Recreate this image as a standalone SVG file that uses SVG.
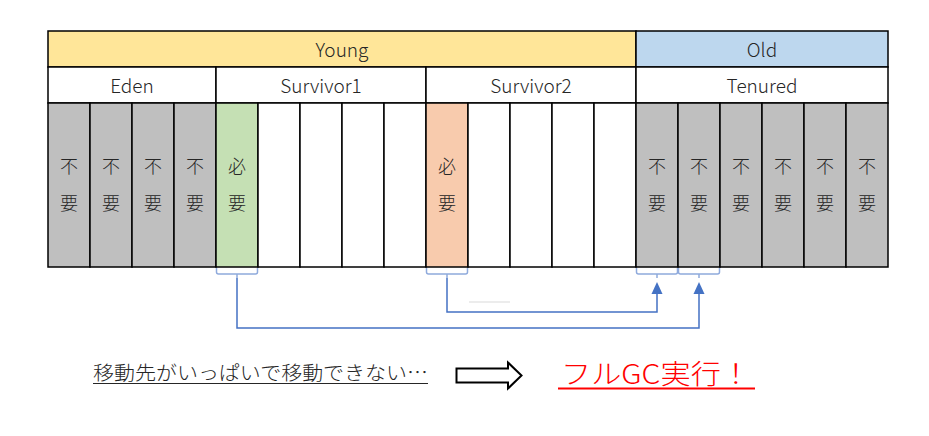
<svg xmlns="http://www.w3.org/2000/svg" width="929" height="436" viewBox="0 0 929 436">
<style>
.t{font-family:"Noto Sans CJK JP","Noto Sans",sans-serif;fill:#262626;text-anchor:middle;dominant-baseline:central}
.h{font-size:19px;font-weight:300}
.c{font-size:18px;font-weight:300}
.b{stroke:#000;stroke-width:1.5}
.br{fill:none;stroke:#8faadc;stroke-width:1.5}
.cn{fill:none;stroke:#4472c4;stroke-width:1.5}
.g{fill:#bfbfbf}.w{fill:#fff}.gr{fill:#c5e0b4}.or{fill:#f8cbad}
</style>
<rect width="929" height="436" fill="#fff"/>
<g id="young"><rect x="48" y="31" width="588" height="36" fill="#ffe699" class="b"/><text class="t h" x="342" y="48">Young</text></g>
<g id="old"><rect x="636" y="31" width="252" height="36" fill="#bdd7ee" class="b"/><text class="t h" x="762" y="48">Old</text></g>
<g id="eden"><rect x="48" y="67" width="168" height="36" fill="#fff" class="b"/><text class="t h" x="132" y="84">Eden</text></g>
<g id="survivor1"><rect x="216" y="67" width="210" height="36" fill="#fff" class="b"/><text class="t h" x="321" y="84">Survivor1</text></g>
<g id="survivor2"><rect x="426" y="67" width="210" height="36" fill="#fff" class="b"/><text class="t h" x="531" y="84">Survivor2</text></g>
<g id="tenured"><rect x="636" y="67" width="252" height="36" fill="#fff" class="b"/><text class="t h" x="762" y="84">Tenured</text></g>
<g id="cell0"><rect x="48" y="103" width="42" height="164" class="g b"/><text class="t c" x="69" y="165">不</text><text class="t c" x="69" y="202">要</text></g>
<g id="cell1"><rect x="90" y="103" width="42" height="164" class="g b"/><text class="t c" x="111" y="165">不</text><text class="t c" x="111" y="202">要</text></g>
<g id="cell2"><rect x="132" y="103" width="42" height="164" class="g b"/><text class="t c" x="153" y="165">不</text><text class="t c" x="153" y="202">要</text></g>
<g id="cell3"><rect x="174" y="103" width="42" height="164" class="g b"/><text class="t c" x="195" y="165">不</text><text class="t c" x="195" y="202">要</text></g>
<g id="cell4"><rect x="216" y="103" width="42" height="164" class="gr b"/><text class="t c" x="237" y="165">必</text><text class="t c" x="237" y="202">要</text></g>
<g id="cell5"><rect x="258" y="103" width="42" height="164" class="w b"/></g>
<g id="cell6"><rect x="300" y="103" width="42" height="164" class="w b"/></g>
<g id="cell7"><rect x="342" y="103" width="42" height="164" class="w b"/></g>
<g id="cell8"><rect x="384" y="103" width="42" height="164" class="w b"/></g>
<g id="cell9"><rect x="426" y="103" width="42" height="164" class="or b"/><text class="t c" x="447" y="165">必</text><text class="t c" x="447" y="202">要</text></g>
<g id="cell10"><rect x="468" y="103" width="42" height="164" class="w b"/></g>
<g id="cell11"><rect x="510" y="103" width="42" height="164" class="w b"/></g>
<g id="cell12"><rect x="552" y="103" width="42" height="164" class="w b"/></g>
<g id="cell13"><rect x="594" y="103" width="42" height="164" class="w b"/></g>
<g id="cell14"><rect x="636" y="103" width="42" height="164" class="g b"/><text class="t c" x="657" y="165">不</text><text class="t c" x="657" y="202">要</text></g>
<g id="cell15"><rect x="678" y="103" width="42" height="164" class="g b"/><text class="t c" x="699" y="165">不</text><text class="t c" x="699" y="202">要</text></g>
<g id="cell16"><rect x="720" y="103" width="42" height="164" class="g b"/><text class="t c" x="741" y="165">不</text><text class="t c" x="741" y="202">要</text></g>
<g id="cell17"><rect x="762" y="103" width="42" height="164" class="g b"/><text class="t c" x="783" y="165">不</text><text class="t c" x="783" y="202">要</text></g>
<g id="cell18"><rect x="804" y="103" width="42" height="164" class="g b"/><text class="t c" x="825" y="165">不</text><text class="t c" x="825" y="202">要</text></g>
<g id="cell19"><rect x="846" y="103" width="42" height="164" class="g b"/><text class="t c" x="867" y="165">不</text><text class="t c" x="867" y="202">要</text></g>
<g id="connectors">
<path class="br" d="M216.5,268 V272 Q216.5,274 218.5,274 H255.5 Q257.5,274 257.5,272 V268 M237,274 V278"/>
<path class="br" d="M426.5,268 V272 Q426.5,274 428.5,274 H465.5 Q467.5,274 467.5,272 V268 M447,274 V278"/>
<path class="br" d="M636.5,268 V272 Q636.5,274 638.5,274 H675.5 Q677.5,274 677.5,272 V268 M657,274 V278"/>
<path class="br" d="M678.5,268 V272 Q678.5,274 680.5,274 H717.5 Q719.5,274 719.5,272 V268 M699,274 V278"/>
<polyline class="cn" points="237,278 237,328 699,328 699,293"/>
<polygon points="699,282 693.5,294 704.5,294" fill="#4472c4"/>
<polyline class="cn" points="447,278 447,312 657,312 657,293"/>
<polygon points="657,282 651.5,294 662.5,294" fill="#4472c4"/>
<line x1="469" y1="302" x2="510" y2="302" stroke="#d9d9d9" stroke-width="1"/>
</g>
<g id="message">
<text x="93" y="380" font-family="Noto Sans CJK JP, sans-serif" font-size="19" font-weight="300" fill="#262626" textLength="335" lengthAdjust="spacingAndGlyphs">移動先がいっぱいで移動できない…</text>
<line x1="93" y1="383.5" x2="428" y2="383.5" stroke="#262626" stroke-width="1.2"/>
</g>
<g id="blockarrow">
<polygon points="456.5,368.5 508,368.5 508,362.5 521.5,375.5 508,388.5 508,382.5 456.5,382.5" fill="#fff" stroke="#000" stroke-width="2"/>
</g>
<g id="result">
<text x="561" y="384" font-family="Noto Sans CJK JP, sans-serif" font-size="27" font-weight="300" fill="#ff0000" textLength="190" lengthAdjust="spacingAndGlyphs">フルGC実行！</text>
<line x1="558" y1="388.5" x2="755" y2="388.5" stroke="#ff0000" stroke-width="2"/>
</g>
</svg>
